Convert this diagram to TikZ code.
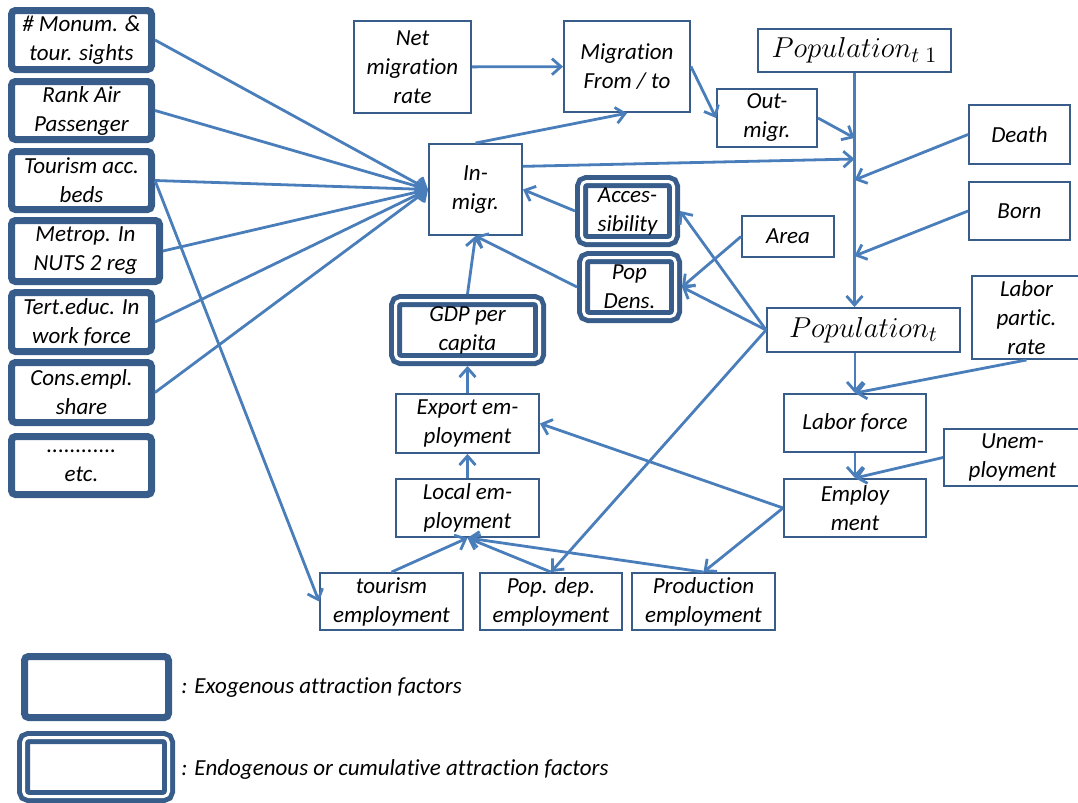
\documentclass[tikz,border=0pt]{standalone}
\usepackage{fontspec}
\setmainfont{Carlito}[Ligatures=NoCommon]
\usetikzlibrary{arrows.meta}
\definecolor{boxblue}{RGB}{56,93,138}
\definecolor{lineblue}{RGB}{74,126,187}
\begin{document}
\begin{tikzpicture}[x=0.5pt, y=-0.5pt,
    every node/.style={font=\fontsize{11.5}{14.5}\selectfont\itshape, align=center, inner sep=0pt},
    varbox/.style={draw=boxblue, line width=1.2pt, fill=white},
    exobox/.style={draw=boxblue, line width=3.5pt, rounded corners=2pt, fill=white},
    endobox/.style={draw=boxblue, line width=2.5pt, double=white, double distance=1.5pt,
        rounded corners=2.5pt, fill=white, outer sep=3.25pt},
    popbox/.style={varbox, font=\fontsize{15.5}{18}\selectfont},
    flow/.style={draw=lineblue, line width=1.4pt, -{Straight Barb[length=4.5pt,width=8pt]}},
    link/.style={draw=lineblue, line width=1.4pt}]
    \useasboundingbox (0,0) rectangle (1078,803);

    % exogenous factors, left column
    \node[exobox, minimum width=70pt, minimum height=29.5pt] (monum) at (81.5,40) {\# Monum. \&\\tour. sights};
    \node[exobox, minimum width=70pt, minimum height=29pt] (rank) at (81.5,110.5) {Rank Air\\Passenger};
    \node[exobox, minimum width=70pt, minimum height=29pt] (beds) at (81.5,180.5) {Tourism acc.\\beds};
    \node[exobox, minimum width=74pt, minimum height=30.5pt] (metro) at (85.5,251) {Metrop. In\\NUTS 2 reg};
    \node[exobox, minimum width=70pt, minimum height=29.5pt] (tert) at (81.5,322) {Tert.educ. In\\work force};
    \node[exobox, minimum width=70pt, minimum height=30pt] (cons) at (81.5,392.5) {Cons.empl.\\share};
    \node[exobox, minimum width=70pt, minimum height=29pt] (etc) at (81.5,465.5) {............\\etc.};

    % migration
    \node[varbox, minimum width=58.5pt, minimum height=45.75pt] (net) at (412.5,67) {Net\\migration\\rate};
    \node[varbox, minimum width=62.75pt, minimum height=45.5pt] (mig) at (627,66.5) {Migration\\From / to};
    \node[varbox, minimum width=49.75pt, minimum height=28.75pt] (out) at (767,118) {Out-\\migr.};
    \node[varbox, minimum width=46.25pt, minimum height=45.25pt] (in) at (475.5,189.5) {In-\\migr.};
    \node[endobox, minimum width=46pt, minimum height=29.5pt] (acc) at (627.5,211) {Acces-\\sibility};
    \node[endobox, minimum width=46pt, minimum height=29.5pt] (dens) at (629.5,287) {Pop\\Dens.};
    \node[varbox, minimum width=45.75pt, minimum height=20.25pt] (area) at (788,236.5) {Area};

    % population
    \node[popbox, minimum width=96.25pt, minimum height=21.25pt] (popA) at (854.5,50.5) {$Population_{t\;1}$};
    \node[popbox, minimum width=96.25pt, minimum height=21.75pt] (popB) at (863.5,330) {$Population_{t}$};
    \node[varbox, minimum width=50.25pt, minimum height=29.25pt] (death) at (1019.5,134.5) {Death};
    \node[varbox, minimum width=50.25pt, minimum height=28.75pt] (born) at (1019.5,211) {Born};
    \coordinate (j1) at (854.5,138);
    \coordinate (j2) at (854.5,159);
    \coordinate (j3) at (854.5,180);
    \coordinate (j4) at (854.5,256);

    % labour market
    \node[varbox, minimum width=54.25pt, minimum height=41.25pt] (partic) at (1026.5,317.5) {Labor\\partic.\\rate};
    \node[varbox, minimum width=70.75pt, minimum height=28.75pt] (labor) at (855,423) {Labor force};
    \node[varbox, minimum width=68.25pt, minimum height=28.25pt] (unemp) at (1012.5,457.5) {Unem-\\ployment};
    \node[varbox, minimum width=70.75pt, minimum height=28.75pt] (emp) at (855,508) {Employ\\ment};

    % employment and GDP
    \node[endobox, minimum width=72pt, minimum height=29.5pt] (gdp) at (467.5,330) {GDP per\\capita};
    \node[varbox, minimum width=71.25pt, minimum height=29.25pt] (export) at (467.5,423.5) {Export em-\\ployment};
    \node[varbox, minimum width=71.25pt, minimum height=28.75pt] (local) at (467.5,508) {Local em-\\ployment};
    \node[varbox, minimum width=71.25pt, minimum height=28.25pt] (tour) at (391.5,601.5) {tourism\\employment};
    \node[varbox, minimum width=70.75pt, minimum height=28.25pt] (popdep) at (551,601.5) {Pop. dep.\\employment};
    \node[varbox, minimum width=71.25pt, minimum height=28.25pt] (prod) at (703.5,601.5) {Production\\employment};

    % legend
    \node[exobox, minimum width=72pt, minimum height=30.5pt] (exo) at (96.5,687) {};
    \node[anchor=west] (exotxt) at (181,688) {: Exogenous attraction factors};
    \node[endobox, minimum width=72.5pt, minimum height=29.5pt] (endo) at (96,767) {};
    \node[anchor=west] (endotxt) at (181,769) {: Endogenous or cumulative attraction factors};

    \draw[flow] (monum.east) -- (in.west);
    \draw[flow] (rank.east) -- (in.west);
    \draw[flow] (beds.east) -- (in.west);
    \draw[flow] (metro.east) -- (in.west);
    \draw[flow] (tert.east) -- (in.west);
    \draw[flow] (cons.east) -- (in.west);
    \draw[flow] (beds.east) -- (tour.west);

    \draw[flow] (net) -- (mig);
    \draw[flow] (mig.east) -- (out.west);
    \draw[flow] (in.north) -- (mig.south);
    \draw[flow] (acc.west) -- (in.east);
    \draw[flow] (dens.west) -- (in.south);
    \draw[flow] (gdp.north) -- (in.south);
    \draw[flow] (area.west) -- (dens.east);
    \draw[flow] (popB.west) -- (dens.east);
    \draw[flow] (popB.west) -- (acc.east);
    \draw[flow] (popB.west) -- (popdep.north);

    \draw[flow] (popA.south) -- (popA.south |- popB.north);
    \draw[flow] (out.east) -- (j1);
    \draw[flow] (in.26) -- (j2);
    \draw[flow] (death.west) -- (j3);
    \draw[flow] (born.west) -- (j4);

    \draw[flow] (labor.north |- popB.south) -- (labor.north);
    \draw[flow] (partic.south) -- (labor.north);
    \draw[flow] (labor) -- (emp);
    \draw[flow] (unemp.west) -- (emp.north);
    \draw[flow] (emp.west) -- (export.east);
    \draw[flow] (emp.west) -- (prod.north);

    \draw[flow] (local) -- (export);
    \draw[flow] (export) -- (gdp);
    \draw[flow] (tour.north) -- (local.south);
    \draw[flow] (popdep.north) -- (local.south);
    \draw[flow] (prod.north) -- (local.south);
\end{tikzpicture}
\end{document}
